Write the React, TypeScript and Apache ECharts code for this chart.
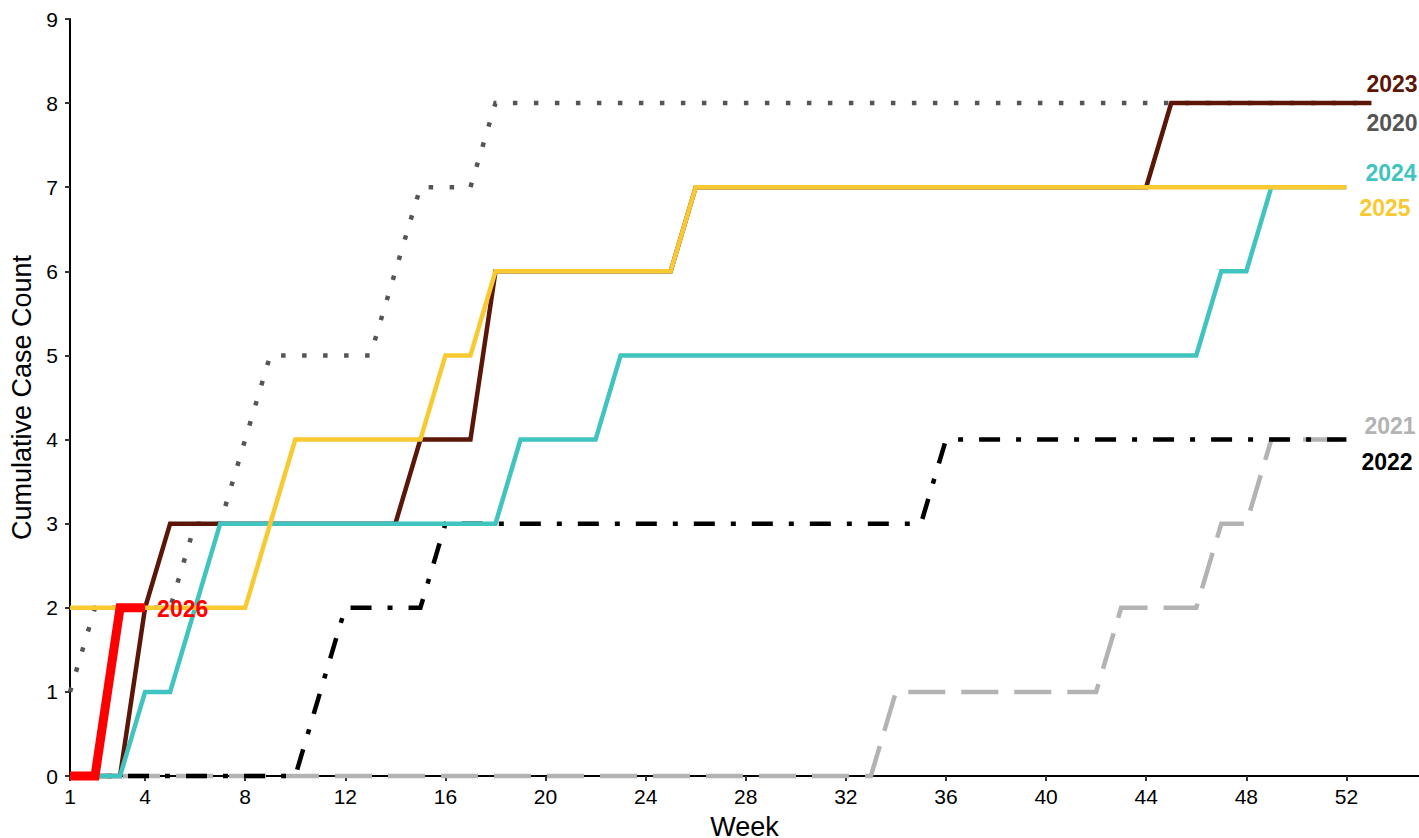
import React, { useEffect, useRef } from "react";
import * as echarts from "echarts";

const weeks = [1,2,3,4,5,6,7,8,9,10,11,12,13,14,15,16,17,18,19,20,21,22,23,24,25,26,27,28,29,30,31,32,33,34,35,36,37,38,39,40,41,42,43,44,45,46,47,48,49,50,51,52,53];
const xTicks = [1,4,8,12,16,20,24,28,32,36,40,44,48,52];

const y2020 = [1,2,2,2,2,3,3,4,5,5,5,5,5,6,7,7,7,8,8,8,8,8,8,8,8,8,8,8,8,8,8,8,8,8,8,8,8,8,8,8,8,8,8,8,8,8,8,8,8,8,8,8,8];
const y2021 = [0,0,0,0,0,0,0,0,0,0,0,0,0,0,0,0,0,0,0,0,0,0,0,0,0,0,0,0,0,0,0,0,0,1,1,1,1,1,1,1,1,1,2,2,2,2,3,3,4,4,4,4];
const y2022 = [0,0,0,0,0,0,0,0,0,0,1,2,2,2,2,3,3,3,3,3,3,3,3,3,3,3,3,3,3,3,3,3,3,3,3,4,4,4,4,4,4,4,4,4,4,4,4,4,4,4,4,4];
const y2023 = [0,0,0,2,3,3,3,3,3,3,3,3,3,3,4,4,4,6,6,6,6,6,6,6,6,7,7,7,7,7,7,7,7,7,7,7,7,7,7,7,7,7,7,7,8,8,8,8,8,8,8,8,8];
const y2024 = [0,0,0,1,1,2,3,3,3,3,3,3,3,3,3,3,3,3,4,4,4,4,5,5,5,5,5,5,5,5,5,5,5,5,5,5,5,5,5,5,5,5,5,5,5,5,6,6,7,7,7,7];
const y2025 = [2,2,2,2,2,2,2,2,3,4,4,4,4,4,4,5,5,6,6,6,6,6,6,6,6,7,7,7,7,7,7,7,7,7,7,7,7,7,7,7,7,7,7,7,7,7,7,7,7,7,7,7];
const y2026 = [0,0,2,2];

const FONT = "'Liberation Sans', Arial, Helvetica, sans-serif";

type S = {
  name: string;
  values: number[];
  color: string;
  width: number;
  dash: any;
  offset: [number, number];
};

const seriesDefs: S[] = [
  { name: "2020", values: y2020, color: "#555555", width: 4.5, dash: [4.5, 16.5], offset: [-5, 20] },
  { name: "2021", values: y2021, color: "#B3B3B3", width: 4.5, dash: [37, 16], offset: [18, -14] },
  { name: "2022", values: y2022, color: "#000000", width: 4.5, dash: [21, 16, 5, 16], offset: [15, 22] },
  { name: "2023", values: y2023, color: "#5C1608", width: 4.5, dash: "solid", offset: [-5, -19] },
  { name: "2024", values: y2024, color: "#40C4C0", width: 4.5, dash: "solid", offset: [19, -14] },
  { name: "2025", values: y2025, color: "#F9C932", width: 4.5, dash: "solid", offset: [13, 21] },
  { name: "2026", values: y2026, color: "#FF0000", width: 9, dash: "solid", offset: [12, 1] },
];

export default function App() {
  const ref = useRef<HTMLDivElement>(null);
  useEffect(() => {
    if (!ref.current) return;
    const chart = echarts.init(ref.current, undefined, { renderer: "svg" });
    chart.setOption({
      animation: false,
      backgroundColor: "#ffffff",
      grid: { left: 70, right: 0, top: 19, bottom: 62, containLabel: false, outerBoundsMode: "none" },
      xAxis: {
        type: "value",
        min: 1,
        max: 54.9,
        name: "Week",
        nameLocation: "middle",
        nameGap: 37,
        nameTextStyle: { fontSize: 27, color: "#000", fontFamily: FONT },
        axisLine: { show: true, lineStyle: { color: "#000", width: 2 } },
        axisTick: { show: true, length: 5, lineStyle: { color: "#333", width: 2 }, customValues: xTicks },
        axisLabel: { fontSize: 21, color: "#000", fontFamily: FONT, margin: 10, customValues: xTicks },
        splitLine: { show: false },
      },
      yAxis: {
        type: "value",
        min: 0,
        max: 9,
        interval: 1,
        name: "Cumulative Case Count",
        nameLocation: "middle",
        nameGap: 34,
        nameTextStyle: { fontSize: 27, color: "#000", fontFamily: FONT },
        axisLine: { show: true, lineStyle: { color: "#000", width: 2 } },
        axisTick: { show: true, length: 5, lineStyle: { color: "#333", width: 2 } },
        axisLabel: { fontSize: 21, color: "#000", fontFamily: FONT, margin: 12 },
        splitLine: { show: false },
      },
      series: seriesDefs.map((s) => ({
        type: "line",
        name: s.name,
        data: s.values.map((v, i) => [weeks[i], v]),
        showSymbol: false,
        symbol: "none",
        clip: false,
        lineStyle: { color: s.color, width: s.width, type: s.dash, cap: "butt", join: "miter" },
        itemStyle: { color: s.color },
        endLabel: {
          show: true,
          formatter: s.name,
          distance: 0,
          offset: s.offset,
          color: s.color,
          fontWeight: "bold",
          fontSize: 23,
          fontFamily: FONT,
        },
        emphasis: { disabled: true },
        z: 2,
      })),
    });
    return () => chart.dispose();
  }, []);
  return (
    <div
      ref={ref}
      style={{ position: "fixed", left: 0, top: 0, width: 1419, height: 838, background: "#fff" }}
    />
  );
}
